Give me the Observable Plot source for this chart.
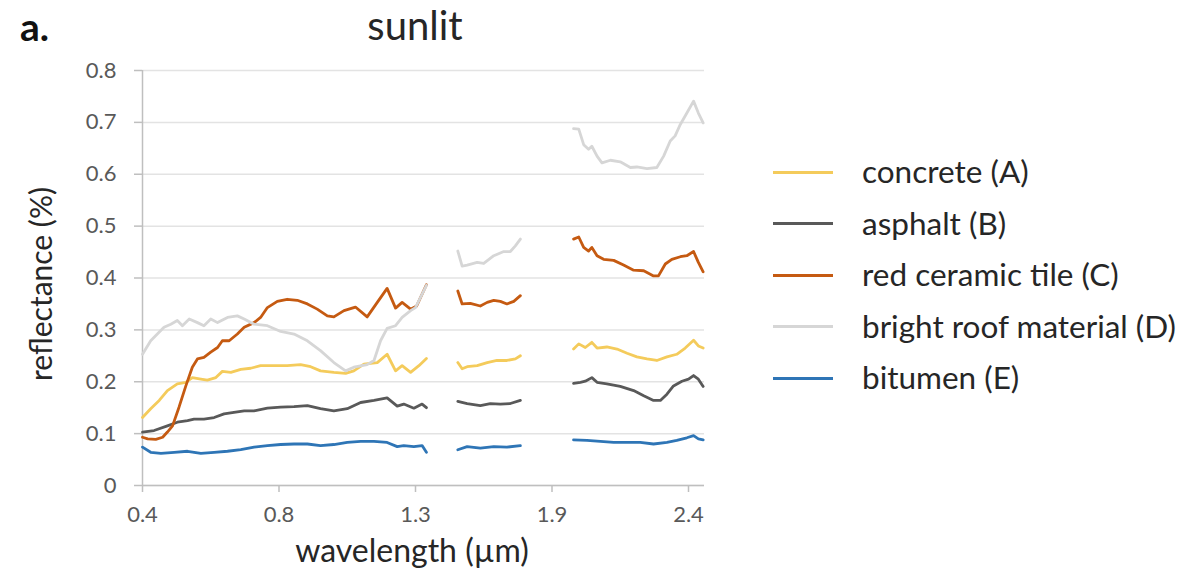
<!DOCTYPE html>
<html>
<head>
<meta charset="utf-8">
<script src="https://cdn.jsdelivr.net/npm/d3@7"></script>
<script src="https://cdn.jsdelivr.net/npm/@observablehq/plot@0.6"></script>
<style>
  html, body { margin: 0; padding: 0; background: #fff; }
  #wrap { position: relative; width: 1204px; height: 572px; background: #fff; font-family: Lato, "Open Sans", sans-serif; overflow: hidden; }
  .t { position: absolute; white-space: nowrap; line-height: 1; }
  #chart { position: absolute; left: 0; top: 0; }
  .leg { position: absolute; left: 773px; height: 0; }
  .leg .sw { position: absolute; left: 0; top: -1.5px; width: 60px; height: 3px; }
  .leg .lb { position: absolute; left: 89px; top: 0; transform: translateY(-52%); white-space: nowrap; line-height: 1; font-size: 31.5px; color: #262626; }
</style>
</head>
<body>
<div id="wrap">
  <div class="t" id="panel" style="left:20px; top:28px; transform: translateY(-55%); font-size:39px; font-weight:bold; color:#111;">a.</div>
  <div class="t" id="title" style="left:415px; top:25px; transform: translate(-50%,-50%); font-size:40px; color:#262626;">sunlit</div>
  <div class="t" id="xlabel" style="left:412px; top:550px; transform: translate(-50%,-50%); font-size:32px; color:#262626;">wavelength (µm)</div>
  <div class="t" id="ylabel" style="left:40px; top:284px; transform: translate(-50%,-50%) rotate(-90deg); font-size:30px; color:#262626;">reflectance (%)</div>
  <div id="chart"></div>
  <div id="legend"></div>
</div>
<script>
// ---- data (wavelength µm, reflectance); null marks removed absorption bands ----
const seriesNames = ["concrete (A)", "asphalt (B)", "red ceramic tile (C)", "bright roof material (D)", "bitumen (E)"];
const seriesColors = ["#F4CB5B", "#595959", "#C55A11", "#D6D6D6", "#2E75B6"];
const xTicks = [0.4, 0.8, 1.3, 1.9, 2.4];
const yTicks = [0, 0.1, 0.2, 0.3, 0.4, 0.5, 0.6, 0.7, 0.8];

const concrete = [
  [0.400,0.131],[0.424,0.148],[0.449,0.164],[0.473,0.183],[0.502,0.196],[0.527,0.199],[0.546,0.208],[0.571,0.205],[0.590,0.203],[0.615,0.208],[0.634,0.220],[0.659,0.218],[0.688,0.224],[0.717,0.226],[0.746,0.231],[0.785,0.231],[0.830,0.231],[0.879,0.233],[0.916,0.229],[0.952,0.221],[1.001,0.218],[1.044,0.216],[1.074,0.221],[1.111,0.234],[1.160,0.237],[1.196,0.253],[1.227,0.221],[1.251,0.231],[1.282,0.218],[1.315,0.231],[1.348,0.245],
  [1.41,null],
  [1.486,0.237],[1.505,0.225],[1.527,0.229],[1.571,0.231],[1.615,0.237],[1.658,0.241],[1.702,0.241],[1.739,0.244],[1.761,0.250],
  [1.87,null],
  [1.979,0.263],[1.998,0.273],[2.022,0.266],[2.046,0.276],[2.065,0.265],[2.101,0.267],[2.138,0.263],[2.175,0.255],[2.211,0.248],[2.248,0.244],[2.284,0.241],[2.321,0.248],[2.357,0.253],[2.388,0.265],[2.419,0.280],[2.437,0.269],[2.455,0.265]
];
const asphalt = [
  [0.400,0.103],[0.434,0.106],[0.473,0.115],[0.502,0.122],[0.532,0.125],[0.551,0.128],[0.580,0.128],[0.610,0.131],[0.639,0.138],[0.668,0.141],[0.698,0.144],[0.727,0.144],[0.766,0.149],[0.806,0.151],[0.855,0.152],[0.904,0.154],[0.952,0.148],[1.001,0.144],[1.050,0.148],[1.099,0.160],[1.148,0.164],[1.196,0.169],[1.233,0.153],[1.257,0.157],[1.294,0.149],[1.329,0.157],[1.348,0.150],
  [1.41,null],
  [1.486,0.162],[1.527,0.158],[1.585,0.154],[1.629,0.158],[1.673,0.157],[1.717,0.158],[1.761,0.164],
  [1.87,null],
  [1.979,0.197],[2.004,0.199],[2.022,0.201],[2.046,0.208],[2.065,0.199],[2.101,0.196],[2.150,0.191],[2.199,0.183],[2.236,0.173],[2.272,0.164],[2.297,0.164],[2.321,0.176],[2.345,0.192],[2.376,0.201],[2.400,0.205],[2.419,0.212],[2.437,0.205],[2.455,0.191]
];
const redTile = [
  [0.400,0.093],[0.415,0.090],[0.439,0.089],[0.459,0.093],[0.473,0.103],[0.488,0.115],[0.507,0.151],[0.527,0.192],[0.546,0.228],[0.561,0.244],[0.580,0.247],[0.600,0.257],[0.620,0.266],[0.634,0.279],[0.654,0.279],[0.678,0.292],[0.698,0.305],[0.727,0.314],[0.746,0.324],[0.766,0.343],[0.795,0.355],[0.830,0.359],[0.867,0.357],[0.904,0.350],[0.940,0.340],[0.977,0.327],[1.001,0.325],[1.038,0.337],[1.080,0.344],[1.123,0.325],[1.160,0.353],[1.196,0.380],[1.227,0.342],[1.251,0.353],[1.282,0.340],[1.305,0.346],[1.348,0.387],
  [1.41,null],
  [1.486,0.375],[1.505,0.350],[1.541,0.351],[1.585,0.346],[1.615,0.353],[1.644,0.357],[1.673,0.355],[1.702,0.350],[1.732,0.355],[1.761,0.366],
  [1.87,null],
  [1.979,0.475],[1.998,0.479],[2.016,0.459],[2.034,0.452],[2.046,0.459],[2.065,0.443],[2.089,0.436],[2.126,0.434],[2.162,0.425],[2.199,0.415],[2.236,0.414],[2.272,0.404],[2.290,0.404],[2.315,0.427],[2.339,0.436],[2.370,0.441],[2.394,0.443],[2.419,0.451],[2.437,0.430],[2.455,0.412]
];
const brightRoof = [
  [0.400,0.253],[0.424,0.279],[0.463,0.305],[0.483,0.311],[0.502,0.318],[0.517,0.308],[0.537,0.321],[0.561,0.314],[0.580,0.308],[0.600,0.321],[0.620,0.314],[0.649,0.324],[0.678,0.327],[0.698,0.321],[0.727,0.311],[0.766,0.308],[0.806,0.297],[0.855,0.292],[0.904,0.279],[0.952,0.260],[1.001,0.237],[1.044,0.221],[1.074,0.228],[1.123,0.233],[1.148,0.241],[1.172,0.279],[1.196,0.303],[1.227,0.308],[1.251,0.324],[1.282,0.337],[1.300,0.343],[1.348,0.386],
  [1.41,null],
  [1.486,0.452],[1.505,0.423],[1.527,0.425],[1.571,0.430],[1.600,0.428],[1.644,0.443],[1.688,0.451],[1.717,0.451],[1.739,0.462],[1.761,0.475],
  [1.87,null],
  [1.979,0.688],[1.998,0.687],[2.016,0.657],[2.034,0.648],[2.046,0.654],[2.065,0.635],[2.083,0.622],[2.114,0.627],[2.150,0.624],[2.187,0.613],[2.211,0.614],[2.248,0.611],[2.284,0.613],[2.309,0.635],[2.333,0.664],[2.351,0.674],[2.370,0.696],[2.394,0.718],[2.419,0.741],[2.437,0.718],[2.455,0.699]
];
const bitumen = [
  [0.400,0.074],[0.424,0.064],[0.454,0.062],[0.493,0.064],[0.532,0.066],[0.571,0.062],[0.610,0.064],[0.649,0.066],[0.688,0.069],[0.727,0.074],[0.766,0.077],[0.806,0.079],[0.855,0.080],[0.904,0.080],[0.952,0.077],[1.001,0.079],[1.050,0.083],[1.099,0.085],[1.148,0.085],[1.196,0.083],[1.233,0.075],[1.257,0.077],[1.294,0.075],[1.329,0.077],[1.348,0.064],
  [1.41,null],
  [1.486,0.069],[1.527,0.075],[1.585,0.072],[1.644,0.075],[1.702,0.074],[1.761,0.077],
  [1.87,null],
  [1.979,0.088],[2.028,0.087],[2.077,0.085],[2.126,0.083],[2.175,0.083],[2.223,0.083],[2.272,0.080],[2.321,0.083],[2.357,0.087],[2.394,0.092],[2.419,0.096],[2.437,0.090],[2.455,0.088]
];

const seriesData = [concrete, asphalt, redTile, brightRoof, bitumen];
const rows = [];
seriesData.forEach((arr, i) => {
  arr.forEach(([wl, r]) => rows.push({name: seriesNames[i], wl, r: r == null ? NaN : r}));
});

const chart = Plot.plot({
  width: 740,
  height: 572,
  marginLeft: 142,
  marginRight: 36,
  marginTop: 70,
  marginBottom: 87,
  style: {fontFamily: "Lato, 'Open Sans', sans-serif", background: "transparent", overflow: "visible"},
  x: {type: "linear", domain: [0.4, 0.8, 1.3, 1.9, 2.4, 2.46], range: [142, 278.5, 415, 551.5, 688, 704]},
  y: {domain: [0, 0.8], range: [485, 70]},
  color: {domain: seriesNames, range: seriesColors},
  marks: [
    Plot.gridY(yTicks, {stroke: "#E3E3E3", strokeOpacity: 1, strokeWidth: 1.5}),
    Plot.axisY(yTicks, {tickSize: 8, tickPadding: 18, stroke: "#BFBFBF", strokeWidth: 1.5, fill: "#595959", fontSize: 22, tickFormat: d => d === 0 ? "0" : d.toFixed(1), label: null}),
    Plot.axisX(xTicks, {tickSize: 7, tickPadding: 14, stroke: "#BFBFBF", strokeWidth: 1.5, fill: "#595959", fontSize: 22, tickFormat: d => d.toFixed(1), label: null}),
    Plot.ruleY([0], {stroke: "#BFBFBF", strokeWidth: 1.5}),
    Plot.ruleX([xTicks[0]], {stroke: "#BFBFBF", strokeWidth: 1.5}),
    Plot.line(rows, {x: "wl", y: "r", z: "name", stroke: "name", strokeWidth: 2.8, strokeLinejoin: "round", strokeLinecap: "round"})
  ]
});
document.getElementById("chart").appendChild(chart);

// legend
const legendTops = [172, 223.5, 275, 326.5, 378];
const legend = document.getElementById("legend");
seriesNames.forEach((n, i) => {
  const row = document.createElement("div");
  row.className = "leg";
  row.style.top = legendTops[i] + "px";
  const sw = document.createElement("div");
  sw.className = "sw";
  sw.style.background = seriesColors[i];
  const lb = document.createElement("div");
  lb.className = "lb";
  lb.textContent = n;
  row.appendChild(sw);
  row.appendChild(lb);
  legend.appendChild(row);
});
</script>
</body>
</html>
